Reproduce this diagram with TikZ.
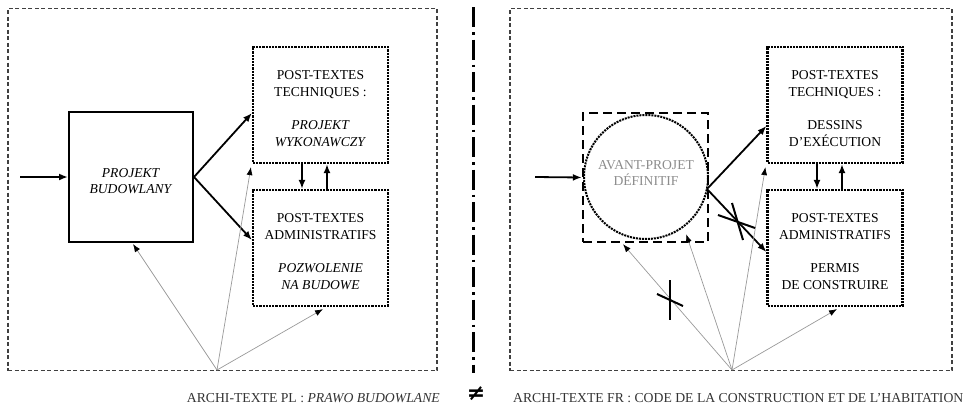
\documentclass[tikz,border=0pt]{standalone}
\usepackage{fontspec}
\setmainfont{Liberation Serif}
\newfontfamily\djvfont{DejaVu Sans}
\usetikzlibrary{arrows.meta,calc}
\begin{document}
\begin{tikzpicture}[x=1pt,y=-1pt,
  txt/.style={font=\fontsize{13.6}{16.8}\selectfont, align=center},
  captxt/.style={font=\fontsize{13.7}{16.8}\selectfont, text=black!80, inner sep=0pt},
  outer/.style={draw=black!75, line width=1.2pt, dash pattern=on 4pt off 2.5pt},
  postbox/.style={draw, densely dotted, line width=2.2pt, minimum width=135pt, minimum height=116pt, inner sep=0pt},
  thickarrow/.style={line width=1.8pt, -{Latex[length=9pt,width=7pt]}},
  grayarrow/.style={draw=black!40, line width=0.7pt, -{Latex[length=8pt,width=6pt,color=black]}},
  cross/.style={line width=2pt}
]
\useasboundingbox (0,0) rectangle (963,407);
% outer frames
\node[outer, minimum width=429pt, minimum height=362pt, inner sep=0pt] (fl) at (222.5,189.5) {};
\node[outer, minimum width=442pt, minimum height=362pt, inner sep=0pt] (fr) at (731,189.5) {};
% separator
\coordinate (septop) at (473,7);
\coordinate (sepbot) at (473,373);
\draw[line width=3pt, dash pattern=on 20pt off 5pt on 2.5pt off 5pt] (septop) -- (sepbot);
\node[font=\djvfont\bfseries\fontsize{22}{22}\selectfont] (neq) at (476,394) {≠};
% captions
\node[captxt, anchor=east] (capl) at (440,398) {ARCHI-TEXTE PL : \textit{PRAWO BUDOWLANE}};
\node[captxt, anchor=west] (capr) at (513,398) {ARCHI-TEXTE FR : CODE DE LA CONSTRUCTION ET DE L’HABITATION};

% ---------- left ----------
\node[draw, line width=2pt, minimum width=124pt, minimum height=130pt, inner sep=0pt] (pb) at (131,177) {};
\node[txt] (pbt) at ($(pb)+(0,4)$) {\textit{PROJEKT}\\\textit{BUDOWLANY}};
\node[postbox] (lt) at (320.5,105) {};
\node[txt] (ltt) at ($(lt)+(0,3.5)$) {POST-TEXTES\\TECHNIQUES :\\[16.5pt]\textit{PROJEKT}\\\textit{WYKONAWCZY}};
\node[postbox] (lb) at (320.5,248) {};
\node[txt] (lbt) at ($(lb)+(0,3.5)$) {POST-TEXTES\\ADMINISTRATIFS\\[16.5pt]\textit{POZWOLENIE}\\\textit{NA BUDOWE}};
\coordinate (lin) at (20,177);
\coordinate (lsrc) at (217,370);
\draw[thickarrow] (lin) -- (pb.west);
\draw[thickarrow] (pb.east) -- ($(lt.west)+(0,8)$);
\draw[thickarrow] (pb.east) -- ($(lb.west)+(0,-8)$);
\draw[thickarrow] ($(lt.south)+(-18.5,0)$) -- ($(lb.north)+(-18.5,0)$);
\draw[thickarrow] ($(lb.north)+(6.5,0)$) -- ($(lt.south)+(6.5,0)$);
\draw[grayarrow] (lsrc) -- ($(pb.south)+(2,1)$);
\draw[grayarrow] (lsrc) -- ($(lt.south west)+(-1,3)$);
\draw[grayarrow] (lsrc) -- ($(lb.south)+(2.5,2)$);

% ---------- right ----------
\node[draw, line width=2.4pt, dash pattern=on 9pt off 5pt, minimum width=125pt, minimum height=129pt, inner sep=0pt] (sq) at (645.5,177.5) {};
\node[draw, circle, densely dotted, line width=2pt, minimum size=124pt, inner sep=0pt] (circ) at (646,177) {};
\node[txt, text=black!45] (apd) at (646,173) {AVANT-PROJET\\DÉFINITIF};
\node[postbox] (rt) at (835,105) {};
\node[txt] (rtt) at ($(rt)+(0,3.5)$) {POST-TEXTES\\TECHNIQUES :\\[16.5pt]DESSINS\\D’EXÉCUTION};
\node[postbox] (rb) at (835,248) {};
\node[txt] (rbt) at ($(rb)+(0,3.5)$) {POST-TEXTES\\ADMINISTRATIFS\\[16.5pt]PERMIS\\DE CONSTRUIRE};
\coordinate (rin) at (535,177);
\coordinate (rout) at (707,189);
\coordinate (rsrc) at (732,370);
\draw[thickarrow] (rin) -- (sq.west);
\draw[thickarrow] (rout) -- ($(rt.west)+(0,21)$);
\draw[thickarrow] (rout) -- ($(rb.west)+(0,4)$);
\draw[thickarrow] ($(rt.south)+(-18,0)$) -- ($(rb.north)+(-18,0)$);
\draw[thickarrow] ($(rb.north)+(7,0)$) -- ($(rt.south)+(7,0)$);
\draw[grayarrow] (rsrc) -- ($(sq.south)+(-22.5,1)$);
\draw[grayarrow] (rsrc) -- ($(sq.south east)+(-23,-9)$);
\draw[grayarrow] (rsrc) -- ($(rt.south west)+(-1,3)$);
\draw[grayarrow] (rsrc) -- ($(rb.south)+(2,2)$);
% crosses
\draw[cross] (732,203) -- (743,240);
\draw[cross] (718,215) -- (755,228);
\draw[cross] (670,280) -- (670,320);
\draw[cross] (657,294) -- (683,306);
\end{tikzpicture}
\end{document}
